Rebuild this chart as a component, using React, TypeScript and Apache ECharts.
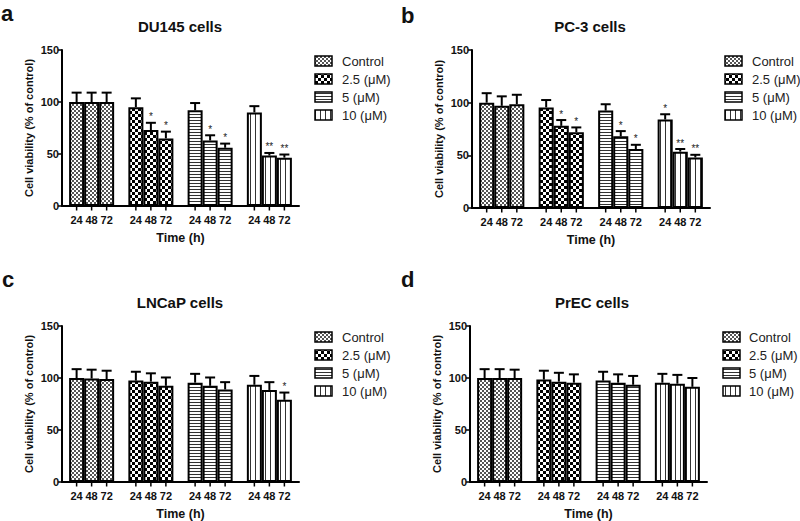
import React, { useEffect, useRef } from "react";
import * as echarts from "echarts";

// ---------- data ----------
const doses = ["Control", "2.5 (μM)", "5 (μM)", "10 (μM)"];
const times = ["24", "48", "72"];
const panelTitles = ["DU145 cells", "PC-3 cells", "LNCaP cells", "PrEC cells"];
const panelLetters = ["a", "b", "c", "d"];
const yTicks = [0, 50, 100, 150];

// rows = dose (Control, 2.5, 5, 10), columns = time (24, 48, 72 h)
const du145Mean = [[100, 100, 100], [95, 73, 65], [92, 63, 56], [90, 48.5, 46.5]];
const du145Sd = [[9, 9, 9], [8.5, 7, 6.5], [7, 5, 4], [6, 2.5, 3]];
const du145Sig = [["", "", ""], ["", "*", "*"], ["", "*", "*"], ["", "**", "**"]];

const pc3Mean = [[100, 97, 98.5], [95.5, 78, 72], [92.5, 68, 56], [84, 53.5, 48]];
const pc3Sd = [[9, 9, 9], [7, 5.5, 4.5], [6, 5, 4], [5, 2.5, 2.5]];
const pc3Sig = [["", "", ""], ["", "*", "*"], ["", "*", "*"], ["*", "**", "**"]];

const lncapMean = [[100, 99.5, 99], [97.5, 96.5, 92.5], [95.5, 92.5, 89], [93.5, 88.5, 79]];
const lncapSd = [[8.5, 8.5, 8], [8.5, 8, 8], [8.5, 8, 7], [8.5, 7.5, 7]];
const lncapSig = [["", "", ""], ["", "", ""], ["", "", ""], ["", "", "*"]];

const precMean = [[100, 100, 100], [98.5, 96.5, 95.5], [97.5, 95.5, 93.5], [95.5, 94.5, 91.5]];
const precSd = [[8.5, 8.5, 8], [8.5, 8.5, 8], [8.5, 8, 8.5], [8.5, 8.5, 8.5]];
const precSig = [["", "", ""], ["", "", ""], ["", "", ""], ["", "", ""]];

const panelMeans = [du145Mean, pc3Mean, lncapMean, precMean];
const panelSds = [du145Sd, pc3Sd, lncapSd, precSd];
const panelSigs = [du145Sig, pc3Sig, lncapSig, precSig];

// ---------- layout ----------
const FONT = "'Liberation Sans', Arial, Helvetica, sans-serif";
const GAP = 0.24;
const grids = [
  { left: 62, top: 50, width: 237, height: 156 },
  { left: 472, top: 50, width: 238, height: 158 },
  { left: 62, top: 326, width: 237, height: 158 },
  { left: 470, top: 326, width: 237, height: 157 },
];
const titlePos = [
  { x: 180, y: 19 },
  { x: 590, y: 19 },
  { x: 180, y: 295 },
  { x: 592, y: 295 },
];
const letterPos = [
  { x: 1, y: 2 },
  { x: 401, y: 4 },
  { x: 2, y: 268 },
  { x: 401, y: 268 },
];
const legendPos = [
  { box: 315, text: 342, y: 61 },
  { box: 725, text: 752, y: 61 },
  { box: 315, text: 342, y: 337 },
  { box: 723, text: 749, y: 337 },
];
const LEGEND_STEP = 18;

function tile(w: number, h: number, draw: (c: CanvasRenderingContext2D) => void) {
  const cv = document.createElement("canvas");
  cv.width = w;
  cv.height = h;
  const ctx = cv.getContext("2d")!;
  ctx.fillStyle = "#ffffff";
  ctx.fillRect(0, 0, w, h);
  draw(ctx);
  return { image: cv.toDataURL(), repeat: "repeat", imageWidth: w, imageHeight: h } as any;
}

function makePatterns() {
  const control = tile(4, 4, (c) => {
    c.fillStyle = "#555";
    c.fillRect(0, 0, 2, 2);
    c.fillRect(2, 2, 2, 2);
  });
  const p25 = tile(6, 6, (c) => {
    c.fillStyle = "#000";
    c.fillRect(0, 0, 3, 3);
    c.fillRect(3, 3, 3, 3);
  });
  const p5 = tile(2, 3, (c) => {
    c.fillStyle = "#333";
    c.fillRect(0, 0, 2, 1);
  });
  const p10 = tile(5, 2, (c) => {
    c.fillStyle = "#333";
    c.fillRect(0, 0, 1, 2);
  });
  return [control, p25, p5, p10];
}

function buildOption() {
  const patterns = makePatterns();
  const series: any[] = [];
  const graphic: any[] = [];

  panelTitles.forEach((_, p) => {
    const means = panelMeans[p];
    const sds = panelSds[p];
    const sigs = panelSigs[p];
    times.forEach((t, k) => {
      series.push({
        type: "bar",
        name: `${panelTitles[p]}-${t}`,
        xAxisIndex: p,
        yAxisIndex: p,
        barGap: "0%",
        barCategoryGap: `${GAP * 100}%`,
        data: doses.map((_, i) => ({
          value: means[i][k],
          itemStyle: { color: patterns[i] },
        })),
        itemStyle: { borderColor: "#000", borderWidth: 2 },
        label: {
          show: true,
          position: "bottom",
          distance: 8,
          formatter: t,
          color: "#111",
          fontWeight: "bold",
          fontSize: 11,
          fontFamily: FONT,
        },
        emphasis: { disabled: true },
        z: 2,
      });
      series.push({
        type: "custom",
        name: `${panelTitles[p]}-${t}-err`,
        xAxisIndex: p,
        yAxisIndex: p,
        z: 3,
        encode: { x: 0, y: 1 },
        data: doses.map((_, i) => [i, means[i][k], sds[i][k]]),
        renderItem: (params: any, api: any) => {
          const i = api.value(0);
          const m = api.value(1);
          const s = api.value(2);
          const base = api.coord([i, 0]);
          const band = api.size([1, 0])[0];
          const bw = (band * (1 - GAP)) / 3;
          const x = base[0] + (k - 1) * bw;
          const yTop = api.coord([i, m])[1];
          const yErr = api.coord([i, m + s])[1];
          const children: any[] = [
            { type: "line", shape: { x1: x, y1: yTop, x2: x, y2: yErr }, style: { stroke: "#000", lineWidth: 2 } },
            { type: "line", shape: { x1: x - 5, y1: yErr, x2: x + 5, y2: yErr }, style: { stroke: "#000", lineWidth: 2 } },
            { type: "line", shape: { x1: x, y1: base[1], x2: x, y2: base[1] + 4.5 }, style: { stroke: "#000", lineWidth: 1.5 } },
          ];
          const sg = sigs[i][k];
          if (sg) {
            children.push({
              type: "text",
              style: {
                text: sg,
                x,
                y: yErr - 1,
                align: "center",
                verticalAlign: "bottom",
                textAlign: "center",
                textVerticalAlign: "bottom",
                fill: "#222",
                font: `10px ${FONT}`,
              },
            });
          }
          return { type: "group", children };
        },
      });
    });

    // legend
    const lp = legendPos[p];
    doses.forEach((d, i) => {
      const cy = lp.y + i * LEGEND_STEP;
      graphic.push({
        type: "rect",
        shape: { x: lp.box, y: cy - 5, width: 17, height: 10 },
        style: { fill: patterns[i], stroke: "#000", lineWidth: 1.5 },
      });
      graphic.push({
        type: "text",
        style: {
          text: d,
          x: lp.text,
          y: cy,
          align: "left",
          verticalAlign: "middle",
          textAlign: "left",
          textVerticalAlign: "middle",
          fill: "#222",
          font: `13px ${FONT}`,
        },
      });
    });
    graphic.push({
      type: "text",
      style: {
        text: panelLetters[p],
        x: letterPos[p].x,
        y: letterPos[p].y,
        align: "left",
        verticalAlign: "top",
        textAlign: "left",
        textVerticalAlign: "top",
        fill: "#111",
        font: `bold 22px ${FONT}`,
      },
    });
  });

  return {
    animation: false,
    backgroundColor: "#ffffff",
    title: panelTitles.map((t, p) => ({
      text: t,
      left: titlePos[p].x,
      top: titlePos[p].y,
      textAlign: "center",
      padding: 0,
      textStyle: { fontSize: 15, fontWeight: "bold", color: "#111", fontFamily: FONT },
    })),
    grid: grids.map((g) => ({ ...g, containLabel: false })),
    xAxis: grids.map((_, p) => ({
      type: "category",
      gridIndex: p,
      data: doses,
      name: "Time (h)",
      nameLocation: "middle",
      nameGap: 25,
      nameTextStyle: { fontSize: 12.5, fontWeight: "bold", color: "#111", fontFamily: FONT },
      axisLine: { lineStyle: { color: "#000", width: 2 } },
      axisTick: { show: false },
      axisLabel: { show: false },
      splitLine: { show: false },
    })),
    yAxis: grids.map((_, p) => ({
      type: "value",
      gridIndex: p,
      min: yTicks[0],
      max: yTicks[yTicks.length - 1],
      interval: yTicks[1] - yTicks[0],
      name: "Cell viability (% of control)",
      nameLocation: "middle",
      nameGap: 28,
      nameTextStyle: { fontSize: 11, fontWeight: "bold", color: "#111", fontFamily: FONT },
      axisLine: { show: true, lineStyle: { color: "#000", width: 2 } },
      axisTick: { show: true, length: 4, lineStyle: { color: "#000", width: 1.5 } },
      axisLabel: { color: "#111", fontWeight: "bold", fontSize: 11, margin: 3, fontFamily: FONT },
      splitLine: { show: false },
    })),
    series,
    graphic,
  };
}

export default function App() {
  const ref = useRef<HTMLDivElement>(null);
  useEffect(() => {
    if (!ref.current) return;
    const chart = echarts.init(ref.current, undefined, { renderer: "svg" });
    chart.setOption(buildOption() as any);
    return () => chart.dispose();
  }, []);
  return (
    <div
      ref={ref}
      style={{ position: "absolute", left: 0, top: 0, width: 800, height: 521, background: "#fff" }}
    />
  );
}
